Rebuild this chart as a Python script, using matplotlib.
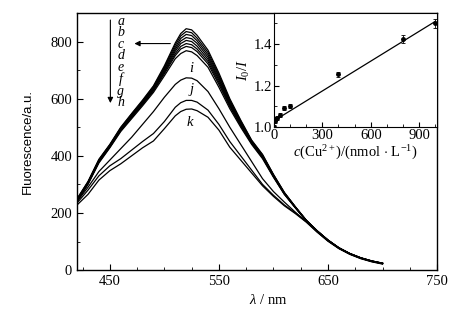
import matplotlib.pyplot as plt

plt.rcParams['font.family'] = ['Liberation Serif', 'DejaVu Serif']
plt.rcParams['mathtext.fontset'] = 'custom'
plt.rcParams['mathtext.rm'] = 'Liberation Serif'
plt.rcParams['mathtext.it'] = 'Liberation Serif:italic'

# longitudes de onda (nm)
wl = [420, 430, 440, 450, 460, 470, 480, 490, 500, 510, 515, 520, 525, 530,
      540, 550, 560, 570, 580, 590, 600, 610, 620, 630, 640, 650, 660, 670,
      680, 690, 700]

# espectros de fluorescencia a-k
fa = [250, 310, 388, 440, 500, 548, 595, 645, 715, 795, 828, 845, 841, 822,
      770, 690, 600, 525, 455, 405, 335, 272, 222, 175, 138, 105, 78, 58, 43, 32, 24]
fb = [249, 309, 386, 438, 498, 546, 592, 642, 710, 788, 820, 835, 831, 812,
      762, 683, 595, 522, 453, 403, 334, 271, 222, 175, 138, 105, 78, 58, 43, 32, 24]
fc = [247, 307, 384, 437, 496, 543, 590, 639, 706, 780, 811, 825, 821, 803,
      754, 677, 591, 518, 451, 401, 333, 270, 221, 174, 137, 105, 78, 58, 43, 32, 24]
fd = [246, 306, 383, 435, 494, 541, 587, 636, 701, 773, 802, 814, 810, 794,
      746, 670, 586, 515, 449, 399, 331, 269, 220, 174, 137, 105, 78, 58, 43, 32, 24]
fe = [245, 305, 381, 434, 492, 538, 584, 633, 696, 766, 793, 804, 800, 784,
      738, 664, 581, 512, 447, 397, 330, 268, 220, 174, 137, 104, 77, 57, 42, 31, 23]
ff = [243, 303, 379, 432, 490, 536, 582, 630, 692, 758, 783, 793, 789, 774,
      730, 657, 577, 508, 445, 395, 328, 267, 219, 174, 137, 104, 77, 57, 42, 31, 23]
fg = [242, 302, 378, 430, 488, 534, 579, 627, 687, 751, 774, 783, 779, 765,
      722, 650, 572, 505, 443, 393, 327, 266, 219, 173, 136, 104, 77, 57, 42, 31, 23]
fh = [240, 300, 375, 428, 485, 530, 575, 622, 680, 740, 758, 768, 764, 751,
      710, 640, 565, 500, 440, 390, 325, 265, 218, 173, 136, 104, 77, 57, 42, 31, 23]
fi = [240, 290, 345, 385, 425, 465, 510, 555, 605, 650, 665, 673, 672, 663,
      625, 565, 500, 440, 380, 320, 275, 238, 203, 170, 135, 103, 77, 57, 42, 31, 23]
fj = [235, 280, 330, 365, 390, 420, 450, 478, 520, 570, 586, 594, 594, 588,
      560, 510, 450, 400, 350, 300, 262, 228, 200, 170, 134, 102, 76, 56, 41, 30, 22]
fk = [228, 265, 315, 348, 372, 400, 428, 452, 495, 540, 555, 563, 564, 558,
      535, 490, 430, 385, 340, 295, 258, 225, 198, 168, 133, 101, 75, 55, 40, 29, 21]
espectros = [fa, fb, fc, fd, fe, ff, fg, fh, fi, fj, fk]
letras = ['a', 'b', 'c', 'd', 'e', 'f', 'g', 'h']

# datos del recuadro: I0/I frente a c(Cu2+)
conc = [0, 5, 10, 20, 40, 60, 100, 400, 800, 1000]
ratio = [1.00, 1.03, 1.04, 1.045, 1.06, 1.09, 1.10, 1.255, 1.425, 1.50]
err = [0.01, 0.01, 0.01, 0.01, 0.01, 0.01, 0.01, 0.012, 0.018, 0.022]
fit_x = [0, 1000]
fit_y = [1.03, 1.51]

fig = plt.figure(figsize=(4.73, 3.25), dpi=100)
ax = fig.add_axes([0.163, 0.169, 0.761, 0.791])

for f in espectros:
    ax.plot(wl, f, color='black', lw=0.9)

ax.set_xlim(420, 750)
ax.set_ylim(0, 900)
ax.set_xticks([450, 550, 650, 750])
ax.set_xticks(range(425, 750, 25), minor=True)
ax.set_yticks([0, 200, 400, 600, 800])
ax.set_yticks(range(0, 900, 100), minor=True)
ax.tick_params(direction='in', labelsize=10.5, length=4)
ax.tick_params(which='minor', direction='in', length=2.5)
for s in ax.spines.values():
    s.set_linewidth(1.0)
ax.set_ylabel('Fluorescence/a.u.', fontsize=9.5, family='Liberation Sans')
ax.yaxis.set_label_coords(-0.12, 0.5)
ax.set_xlabel(r'$\mathit{\lambda}$ / nm', fontsize=10.5)
ax.xaxis.set_label_coords(0.53, -0.09)

# etiquetas a-h (un solo texto) y flechas
ax.text(460, 893, '\n'.join(letras), style='italic', fontsize=10,
        ha='center', va='top', linespacing=0.85)
ax.annotate('', xy=(450.5, 575), xytext=(450.5, 885),
            arrowprops=dict(arrowstyle='-|>', color='black', lw=0.8,
                            mutation_scale=8))
ax.annotate('', xy=(470, 793), xytext=(508, 793),
            arrowprops=dict(arrowstyle='-|>', color='black', lw=0.8,
                            mutation_scale=8))
ax.text(525, 705, 'i', style='italic', fontsize=10.5, ha='center', va='center')
ax.text(525, 632, 'j', style='italic', fontsize=10.5, ha='center', va='center')
ax.text(523, 516, 'k', style='italic', fontsize=10.5, ha='center', va='center')

# recuadro
ins = fig.add_axes([0.579, 0.609, 0.345, 0.351])
ins.plot(fit_x, fit_y, color='black', lw=0.9)
ins.errorbar(conc, ratio, yerr=err, fmt='o', color='black', ms=2.5,
             elinewidth=0.6, capsize=1.5, capthick=0.6)
ins.set_xlim(0, 1010)
ins.set_ylim(1.0, 1.55)
ins.set_xticks([0, 300, 600, 900])
ins.set_xticks(range(0, 1010, 100), minor=True)
ins.set_yticks([1.0, 1.2, 1.4])
ins.set_yticklabels(['1.0', '1.2', '1.4'])
ins.set_yticks([1.1, 1.3, 1.5], minor=True)
ins.tick_params(direction='in', labelsize=10.5, length=3.5, pad=1.5)
ins.tick_params(which='minor', direction='in', length=2)
ins.set_ylabel(r'$\mathit{I}_0/\mathit{I}$', fontsize=10.5, labelpad=1)
ins.set_xlabel(r'$\mathit{c}$(Cu$^{2+}$)/(nmol $\cdot$ L$^{-1}$)',
               fontsize=10.5, labelpad=1)

fig.savefig('out.png', dpi=100)
